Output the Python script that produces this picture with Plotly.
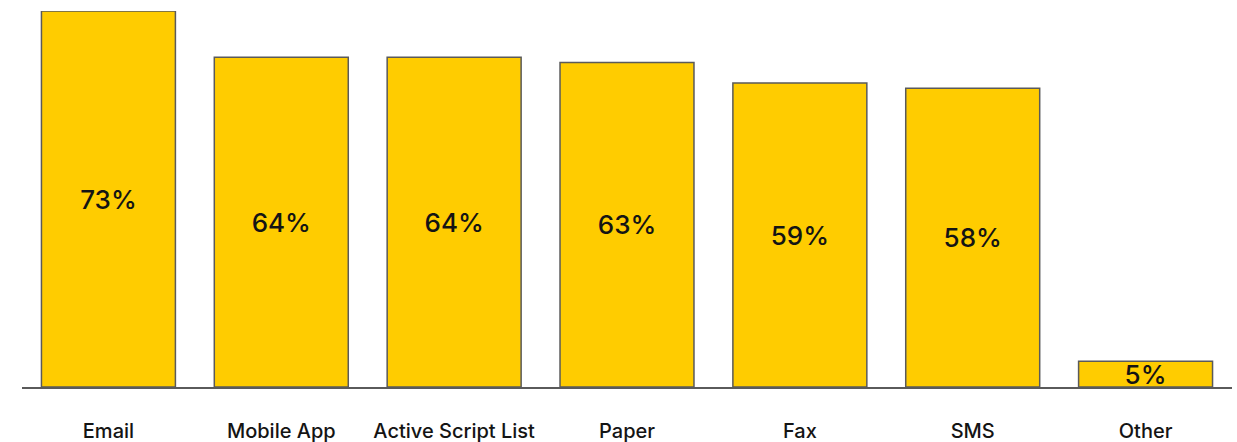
import plotly.graph_objects as go

# Share of respondents by channel
categories = ["Email", "Mobile App", "Active Script List", "Paper", "Fax", "SMS", "Other"]
shares = [73, 64, 64, 63, 59, 58, 5]
labels = [f"{v}%" for v in shares]

fig = go.Figure(
    go.Bar(
        x=categories,
        y=shares,
        text=labels,
        textposition="inside",
        insidetextanchor="middle",
        constraintext="none",
        textangle=0,
        textfont=dict(family="Inter, sans-serif", size=26, color="#141414", weight=500),
        marker=dict(color="#FFCC00", line=dict(color="#5a5a5a", width=1.5)),
        hoverinfo="skip",
    )
)

fig.update_layout(
    width=1237,
    height=442,
    margin=dict(l=22, r=5, t=11, b=55, autoexpand=False),
    paper_bgcolor="white",
    plot_bgcolor="white",
    bargap=0.225,
    showlegend=False,
    font=dict(family="Inter, sans-serif", color="#141414"),
)
fig.update_xaxes(
    automargin=False,
    showline=True,
    linecolor="#5a5a5a",
    linewidth=1.5,
    showgrid=False,
    ticks="",
    ticklabelstandoff=25,
    tickfont=dict(family="Inter, sans-serif", size=20, color="#141414", weight=500),
)
fig.update_yaxes(
    range=[0, 73],
    visible=False,
    showgrid=False,
    zeroline=False,
)

fig.write_html("out.html")
